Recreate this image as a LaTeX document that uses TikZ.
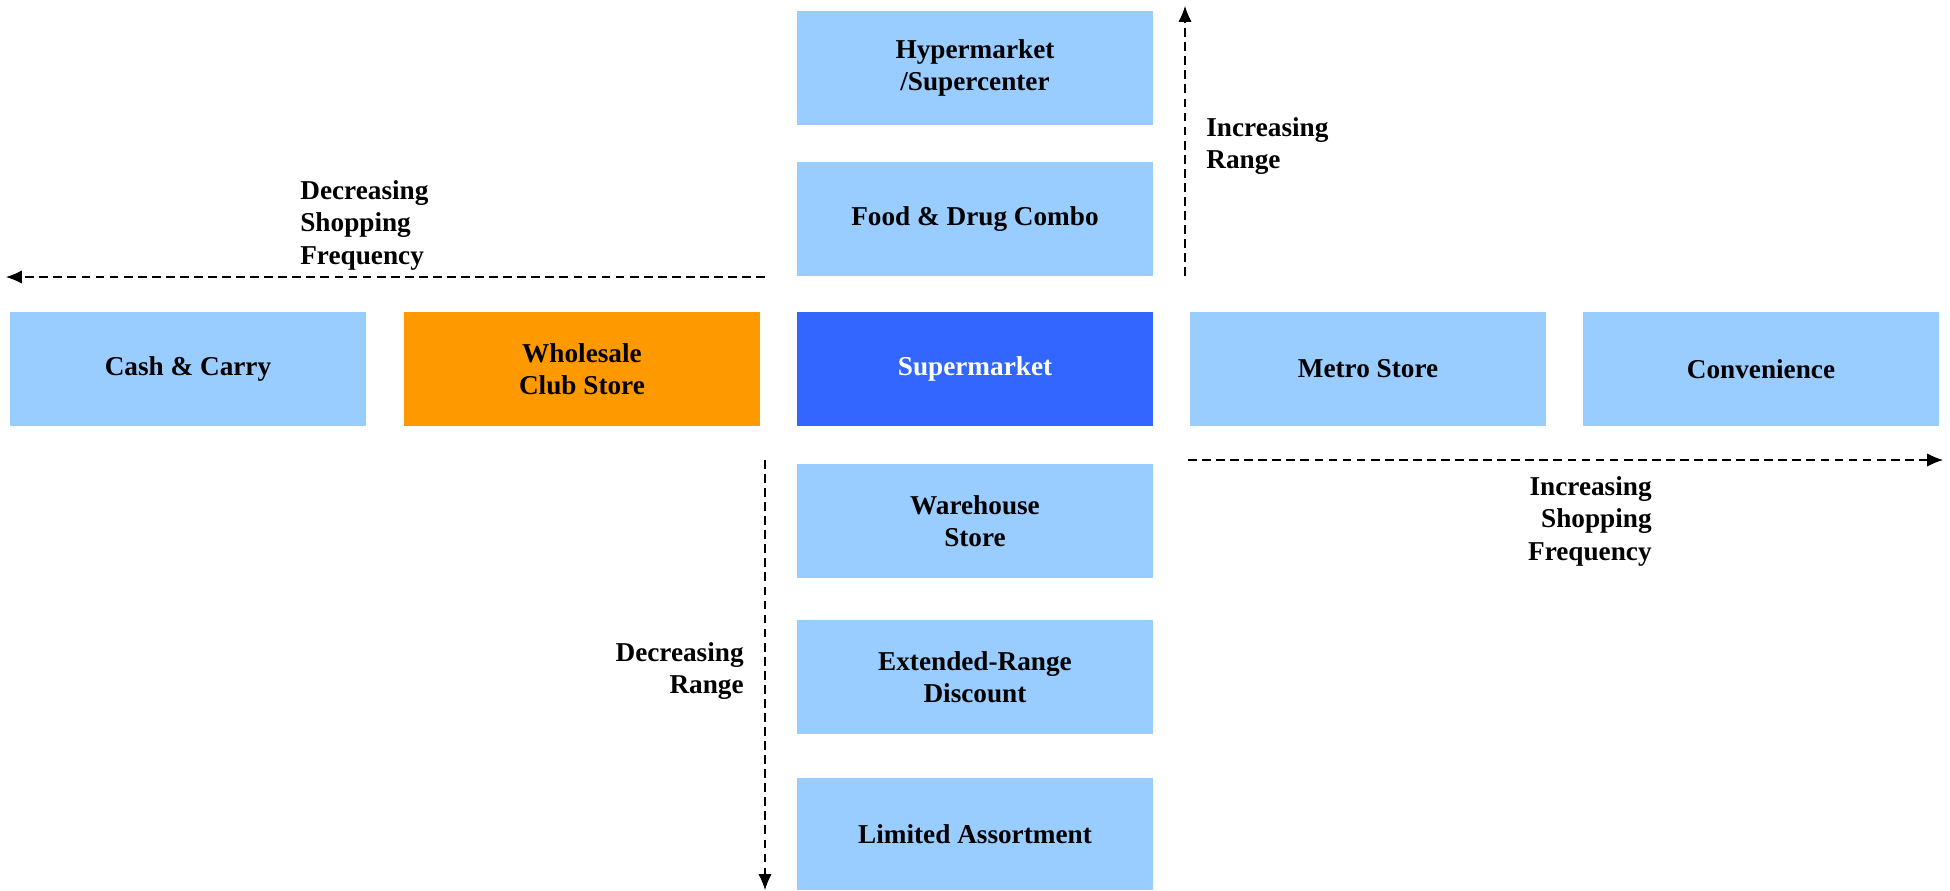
\documentclass[tikz,border=0pt]{standalone}
\usepackage{fontspec}
\setmainfont{Liberation Serif}
\usetikzlibrary{arrows.meta}
\definecolor{paleblue}{HTML}{99CCFF}
\definecolor{deepblue}{HTML}{3366FF}
\definecolor{cluborange}{HTML}{FF9900}
\tikzstyle{store} = [rectangle, minimum width=7.14cm, minimum height=2.28cm, inner sep=0pt, text centered, align=center, fill=paleblue, font=\bfseries\fontsize{15.5}{18}\selectfont]
\tikzstyle{hub} = [store, fill=deepblue, text=white]
\tikzstyle{club} = [store, fill=cluborange]
\tikzstyle{trend} = [font=\bfseries\fontsize{15.5}{18.5}\selectfont, inner sep=0pt]
\tikzstyle{arrow} = [line width=0.6pt, dash pattern=on 5pt off 3pt, -{Latex[length=9pt,width=7.5pt]}]

\begin{document}
\begin{tikzpicture}[x=0.02cm, y=-0.02cm]
        \useasboundingbox (0,0) rectangle (1950,890);
        % centre column
        \node (hyper) [store] at (975,68) {Hypermarket\\/Supercenter};
        \node (food) [store] at (975,219) {Food \& Drug Combo};
        \node (super) [hub] at (975,369) {Supermarket};
        \node (ware) [store] at (975,521) {Warehouse\\Store};
        \node (ext) [store] at (975,677) {Extended-Range\\Discount};
        \node (lim) [store, minimum height=2.24cm] at (975,834) {Limited Assortment};
        % middle row
        \node (cash) [store] at (188,369) {Cash \& Carry};
        \node (whole) [club] at (582,369) {Wholesale\\Club Store};
        \node (metro) [store] at (1368,369) {Metro Store};
        \node (conv) [store] at (1761,369) {Convenience};

        \coordinate (lfta) at (765,277);
        \coordinate (lftb) at (6,277);
        \coordinate (upa) at (1185,276);
        \coordinate (upb) at (1185,6);
        \coordinate (rgta) at (1188,460);
        \coordinate (rgtb) at (1943,460);
        \coordinate (dwna) at (765,460);
        \coordinate (dwnb) at (765,890);

        \draw [arrow] (lfta) -- (lftb);
        \draw [arrow] (upa) -- (upb);
        \draw [arrow] (rgta) -- (rgtb);
        \draw [arrow] (dwna) -- (dwnb);

        \node (decshop) [trend, anchor=west, align=left] at (300,225) {Decreasing\\Shopping\\Frequency};
        \node (incrange) [trend, anchor=west, align=left] at (1206,146) {Increasing\\Range};
        \node (incshop) [trend, anchor=east, align=right] at (1652,521) {Increasing\\Shopping\\Frequency};
        \node (decrange) [trend, anchor=east, align=right] at (744,671) {Decreasing\\Range};
    \end{tikzpicture}
\end{document}
